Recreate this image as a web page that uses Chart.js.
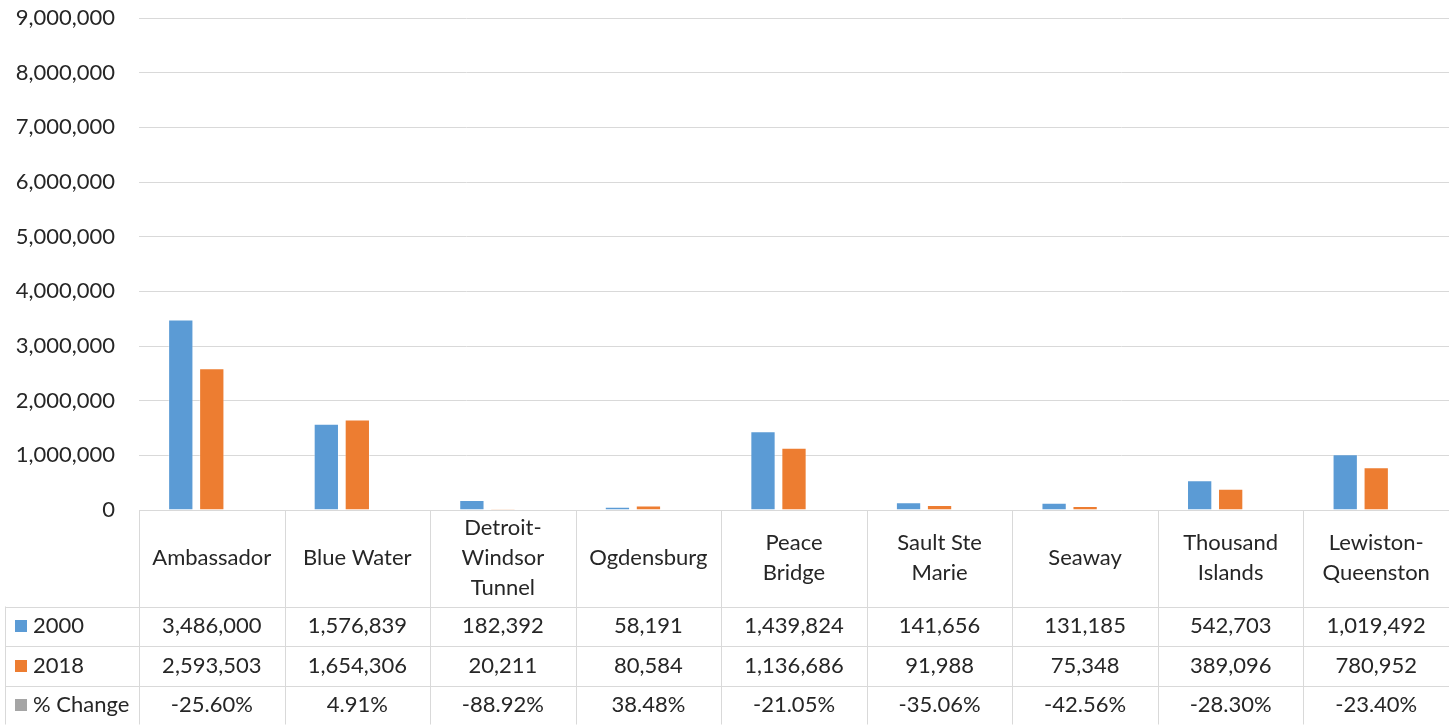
<!DOCTYPE html>
<html><head><meta charset="utf-8">
<script src="https://cdn.jsdelivr.net/npm/chart.js@4/dist/chart.umd.min.js"></script>
<style>html,body{margin:0;padding:0;background:#fff}#wrap{width:1449px;height:725px;position:relative}</style>
</head><body><div id="wrap"><canvas id="c" width="1449" height="725"></canvas></div>
<script>
const categories = [["Ambassador"],["Blue Water"],["Detroit-","Windsor","Tunnel"],["Ogdensburg"],["Peace","Bridge"],["Sault Ste","Marie"],["Seaway"],["Thousand","Islands"],["Lewiston-","Queenston"]];
const seriesNames = ["2000","2018","% Change"];
const series2000 = [3486000,1576839,182392,58191,1439824,141656,131185,542703,1019492];
const series2018 = [2593503,1654306,20211,80584,1136686,91988,75348,389096,780952];
const pctChange = [-25.60,4.91,-88.92,38.48,-21.05,-35.06,-42.56,-28.30,-23.40];
const yMin = 0, yMax = 9000000, yStep = 1000000;

const COLORS = ['#5B9BD5','#ED7D31','#A5A5A5'];
const FONT = 'Lato, "Open Sans", sans-serif';
const TXT = '#262626';
const LINE = '#D9D9D9';
const FS = 22;

const fmtNum = v => v.toLocaleString('en-US');
const fmtPct = v => v.toFixed(2) + '%';

const tablePlugin = {
  id: 'dataTable',
  afterDraw(chart) {
    const ctx = chart.ctx, ca = chart.chartArea, xs = chart.scales.x;
    const n = categories.length;
    const cw = (ca.right - ca.left) / n;
    const top = ca.bottom;
    const rowY = [top, 606.5, 646, 686, 724.5];
    const legendLeft = 5;
    ctx.save();
    ctx.strokeStyle = LINE; ctx.lineWidth = 1;
    ctx.beginPath();
    ctx.moveTo(ca.left, Math.round(rowY[0]) + 0.5); ctx.lineTo(1449, Math.round(rowY[0]) + 0.5);
    for (let r = 1; r < rowY.length; r++) {
      const y = Math.round(rowY[r]) + 0.5;
      ctx.moveTo(legendLeft, y); ctx.lineTo(1449, y);
    }
    for (let i = 0; i <= n; i++) {
      const x = Math.round(ca.left + i * cw) + 0.5;
      ctx.moveTo(x, rowY[0]); ctx.lineTo(x, rowY[4]);
    }
    ctx.moveTo(legendLeft + 0.5, rowY[1]); ctx.lineTo(legendLeft + 0.5, rowY[4]);
    ctx.stroke();

    ctx.fillStyle = TXT;
    ctx.font = FS + 'px ' + FONT;
    ctx.textAlign = 'center'; ctx.textBaseline = 'middle';
    const lh = 30;
    categories.forEach((lines, i) => {
      const cx = xs.getPixelForValue(i);
      const cy = (rowY[0] + rowY[1]) / 2;
      lines.forEach((t, k) => {
        ctx.fillText(t, cx, cy + (k - (lines.length - 1) / 2) * lh);
      });
    });
    const rows = [series2000.map(fmtNum), series2018.map(fmtNum), pctChange.map(fmtPct)];
    rows.forEach((vals, r) => {
      const cy = (rowY[r + 1] + rowY[r + 2]) / 2;
      vals.forEach((t, i) => ctx.fillText(t, xs.getPixelForValue(i), cy));
      ctx.fillStyle = COLORS[r];
      ctx.fillRect(15, Math.round(cy - 6), 12, 12);
      ctx.fillStyle = TXT;
      ctx.textAlign = 'left';
      ctx.fillText(seriesNames[r], 33, cy);
      ctx.textAlign = 'center';
    });
    ctx.restore();
  }
};

new Chart(document.getElementById('c'), {
  type: 'bar',
  data: {
    labels: categories,
    datasets: [
      { label: seriesNames[0], data: series2000, backgroundColor: COLORS[0], borderColor: 'rgba(255,255,255,0.35)', borderWidth: 1 },
      { label: seriesNames[1], data: series2018, backgroundColor: COLORS[1], borderColor: 'rgba(255,255,255,0.35)', borderWidth: 1 },
      { label: seriesNames[2], data: pctChange.map(v => v / 100), backgroundColor: 'rgba(165,165,165,0)', borderWidth: 0, inflateAmount: 0 }
    ]
  },
  options: {
    responsive: false,
    animation: false,
    devicePixelRatio: 1,
    layout: { padding: { top: 18, right: 0, bottom: 215, left: 0 } },
    datasets: { bar: { categoryPercentage: 0.639, barPercentage: 0.816 } },
    plugins: { legend: { display: false }, tooltip: { enabled: false } },
    scales: {
      x: { display: false, offset: true, grid: { display: false } },
      y: {
        min: yMin, max: yMax,
        afterFit(s) { s.width = 139; s.paddingTop = 0; s.paddingBottom = 0; },
        border: { display: false },
        grid: { color: LINE, lineWidth: 1, drawTicks: false },
        ticks: {
          stepSize: yStep, padding: 24, color: TXT,
          font: { family: FONT, size: FS },
          callback: v => fmtNum(v)
        }
      }
    }
  },
  plugins: [tablePlugin]
});
</script>
</body></html>
